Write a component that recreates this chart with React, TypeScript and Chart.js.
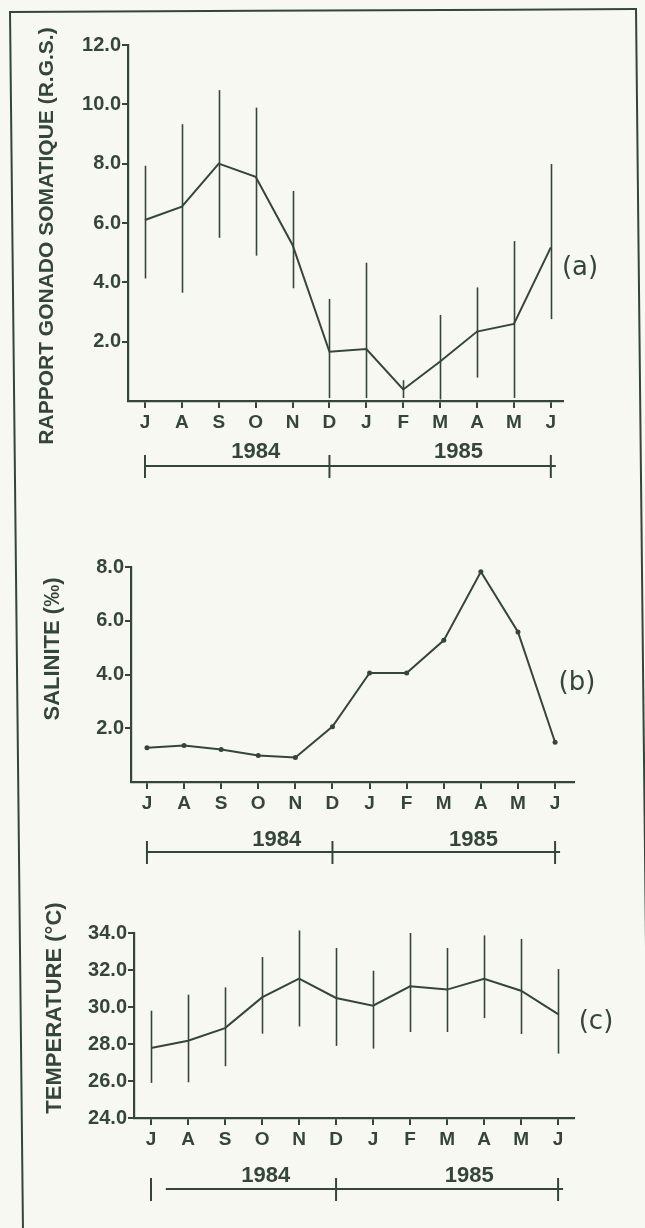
import React, { useEffect, useRef } from 'react';
import { Chart, registerables } from 'chart.js';

Chart.register(...registerables);

const INK = '#34463a';
const PAPER = '#f8f8f2';
const FONT = "'Liberation Sans', 'Arial', sans-serif";

// ---- data ----
const months = ['J', 'A', 'S', 'O', 'N', 'D', 'J', 'F', 'M', 'A', 'M', 'J'];
const years = ['1984', '1985'];

const rgsMean = [6.1, 6.55, 8.0, 7.56, 5.26, 1.66, 1.75, 0.39, 1.33, 2.34, 2.6, 5.18];
const rgsLow = [4.13, 3.65, 5.5, 4.9, 3.8, 0.1, 0.1, 0.1, 0.05, 0.79, 0.1, 2.76];
const rgsHigh = [7.93, 9.33, 10.48, 9.89, 7.08, 3.44, 4.66, 0.7, 2.9, 3.83, 5.39, 7.99];
const rgsTicks = [2, 4, 6, 8, 10, 12];

const salinity = [1.27, 1.36, 1.21, 0.99, 0.91, 2.06, 4.06, 4.06, 5.27, 7.82, 5.58, 1.48];
const salTicks = [2, 4, 6, 8];

const tempMean = [27.78, 28.18, 28.86, 30.52, 31.53, 30.49, 30.07, 31.12, 30.94, 31.53, 30.88, 29.62];
const tempLow = [25.9, 25.93, 26.8, 28.56, 28.95, 27.9, 27.75, 28.65, 28.65, 29.4, 28.54, 27.48];
const tempHigh = [29.8, 30.67, 31.06, 32.7, 34.14, 33.19, 31.96, 34.0, 33.19, 33.87, 33.68, 32.05];
const tempTicks = [24, 26, 28, 30, 32, 34];

const yearBounds = [0, 5, 11];

type Panel = {
  top: number;
  height: number;
  chartLeft: number;
  padTop: number;
  padBottom: number;
  padRight: number;
  xMin: number;
  xMax: number;
  yMin: number;
  yMax: number;
  yTicks: number[];
  mean: number[];
  low?: number[];
  high?: number[];
  pointRadius: number;
  title: string;
  titleX: number;
  titleY: number;
  titleSize: number;
  tag: string;
  tagX: number;
  tagY: number;
  yearLabelAt: number[];
  yearLabelY: number;
  yearLineY: number;
  yearLineStart: number;
};

const panels: Panel[] = [
  {
    top: 0, height: 490, chartLeft: 128, padTop: 45, padBottom: 59, padRight: 82,
    xMin: -0.46, xMax: 11.33, yMin: 0, yMax: 12, yTicks: rgsTicks,
    mean: rgsMean, low: rgsLow, high: rgsHigh, pointRadius: 0,
    title: 'RAPPORT GONADO SOMATIQUE (R.G.S.)', titleX: 47, titleY: 236, titleSize: 21,
    tag: '(a)', tagX: 580, tagY: 268,
    yearLabelAt: [3.0, 8.5], yearLabelY: 452, yearLineY: 466, yearLineStart: 0,
  },
  {
    top: 520, height: 360, chartLeft: 131, padTop: 47, padBottom: 68, padRight: 71,
    xMin: -0.43, xMax: 11.51, yMin: 0, yMax: 8, yTicks: salTicks,
    mean: salinity, pointRadius: 2.5,
    title: 'SALINITE (‰)', titleX: 53, titleY: 649, titleSize: 22,
    tag: '(b)', tagX: 577, tagY: 683,
    yearLabelAt: [3.5, 8.8], yearLabelY: 840, yearLineY: 852, yearLineStart: 0,
  },
  {
    top: 890, height: 338, chartLeft: 134, padTop: 43, padBottom: 80, padRight: 71,
    xMin: -0.46, xMax: 11.43, yMin: 24, yMax: 34, yTicks: tempTicks,
    mean: tempMean, low: tempLow, high: tempHigh, pointRadius: 0,
    title: 'TEMPERATURE (°C)', titleX: 55, titleY: 1008, titleSize: 22,
    tag: '(c)', tagX: 596, tagY: 1022,
    yearLabelAt: [3.1, 8.6], yearLabelY: 1176, yearLineY: 1189, yearLineStart: 0.4,
  },
];

const decor = {
  id: 'decor',
  beforeDatasetsDraw(chart: any) {
    const p: Panel = chart.$panel;
    if (!p || !p.low || !p.high) return;
    const { ctx } = chart;
    const xs = chart.scales.x;
    const ys = chart.scales.y;
    ctx.save();
    ctx.strokeStyle = INK;
    ctx.lineWidth = 1.6;
    p.low.forEach((lo, i) => {
      const px = Math.round(xs.getPixelForValue(i)) + 0.5;
      ctx.beginPath();
      ctx.moveTo(px, ys.getPixelForValue(lo));
      ctx.lineTo(px, ys.getPixelForValue(p.high![i]));
      ctx.stroke();
    });
    ctx.restore();
  },
  afterDraw(chart: any) {
    const p: Panel = chart.$panel;
    if (!p) return;
    const { ctx } = chart;
    const xs = chart.scales.x;
    ctx.save();
    ctx.strokeStyle = INK;
    ctx.fillStyle = INK;
    // year bar
    const ly = p.yearLineY - p.top;
    ctx.lineWidth = 2;
    ctx.beginPath();
    ctx.moveTo(xs.getPixelForValue(yearBounds[0] + p.yearLineStart), ly);
    ctx.lineTo(xs.getPixelForValue(yearBounds[yearBounds.length - 1]) + 5, ly);
    ctx.stroke();
    yearBounds.forEach((b) => {
      const px = xs.getPixelForValue(b);
      ctx.beginPath();
      ctx.moveTo(px, ly - 11);
      ctx.lineTo(px, ly + 12);
      ctx.stroke();
    });
    ctx.font = `bold 22px ${FONT}`;
    ctx.textAlign = 'center';
    ctx.textBaseline = 'middle';
    years.forEach((yr, i) => {
      ctx.fillText(yr, xs.getPixelForValue(p.yearLabelAt[i]), p.yearLabelY - p.top);
    });
    // axis title
    ctx.save();
    ctx.translate(p.titleX, p.titleY - p.top);
    ctx.rotate(-Math.PI / 2);
    ctx.font = `bold ${p.titleSize}px ${FONT}`;
    ctx.fillText(p.title, 0, 0);
    ctx.restore();
    // panel tag
    ctx.font = `26px 'DejaVu Sans', sans-serif`;
    ctx.fillText(p.tag, p.tagX, p.tagY - p.top);
    ctx.restore();
  },
};

function PanelChart({ p }: { p: Panel }) {
  const ref = useRef<HTMLCanvasElement | null>(null);
  useEffect(() => {
    if (!ref.current) return;
    const chart: any = new Chart(ref.current, {
      type: 'line',
      data: {
        datasets: [
          {
            data: p.mean.map((v, i) => ({ x: i, y: v })),
            borderColor: INK,
            borderWidth: 2,
            pointRadius: p.pointRadius,
            pointBackgroundColor: INK,
            pointBorderColor: INK,
            pointBorderWidth: 0,
            tension: 0,
            clip: false as any,
          },
        ],
      },
      options: {
        animation: false,
        responsive: false,
        events: [],
        layout: { padding: { top: p.padTop, bottom: p.padBottom, left: 0, right: p.padRight } },
        plugins: { legend: { display: false }, tooltip: { enabled: false } },
        scales: {
          x: {
            type: 'linear',
            min: p.xMin,
            max: p.xMax,
            afterBuildTicks: (s: any) => {
              s.ticks = months.map((_, i) => ({ value: i }));
            },
            afterFit: (s: any) => {
              s.height = 30;
            },
            border: { display: true, color: INK, width: 2.2 },
            grid: { display: true, drawOnChartArea: false, drawTicks: true, tickLength: 7, color: INK, lineWidth: 2 },
            ticks: {
              autoSkip: false,
              maxRotation: 0,
              padding: 3,
              color: INK,
              font: { family: FONT, size: 19, weight: 'bold' },
              callback: (v: any) => months[Math.round(Number(v))] ?? '',
            },
          },
          y: {
            type: 'linear',
            min: p.yMin,
            max: p.yMax,
            afterBuildTicks: (s: any) => {
              s.ticks = p.yTicks.map((v) => ({ value: v }));
            },
            afterFit: (s: any) => {
              s.width = p.chartLeft;
            },
            border: { display: true, color: INK, width: 2.2 },
            grid: { display: true, drawOnChartArea: false, drawTicks: true, tickLength: 6, color: INK, lineWidth: 2 },
            ticks: {
              padding: 1,
              color: INK,
              font: { family: FONT, size: 20, weight: 'bold' },
              callback: (v: any) => Number(v).toFixed(1),
            },
          },
        },
      },
      plugins: [decor as any],
    } as any);
    chart.$panel = p;
    chart.draw();
    return () => chart.destroy();
  }, [p]);
  return (
    <canvas
      ref={ref}
      width={645}
      height={p.height}
      style={{ position: 'absolute', left: 0, top: p.top, width: 645, height: p.height }}
    />
  );
}

export default function App() {
  return (
    <div
      style={{
        position: 'absolute',
        left: 0,
        top: 0,
        width: 645,
        height: 1228,
        overflow: 'hidden',
        background: PAPER,
      }}
    >
      <div
        style={{
          position: 'absolute',
          left: 9,
          top: 11,
          width: 628,
          height: 1320,
          border: `2.5px solid ${INK}`,
          boxSizing: 'border-box',
          transformOrigin: '0 0',
          transform: 'skewY(-0.27deg) skewX(0.61deg)',
        }}
      />
      {panels.map((p, i) => (
        <PanelChart key={i} p={p} />
      ))}
    </div>
  );
}
